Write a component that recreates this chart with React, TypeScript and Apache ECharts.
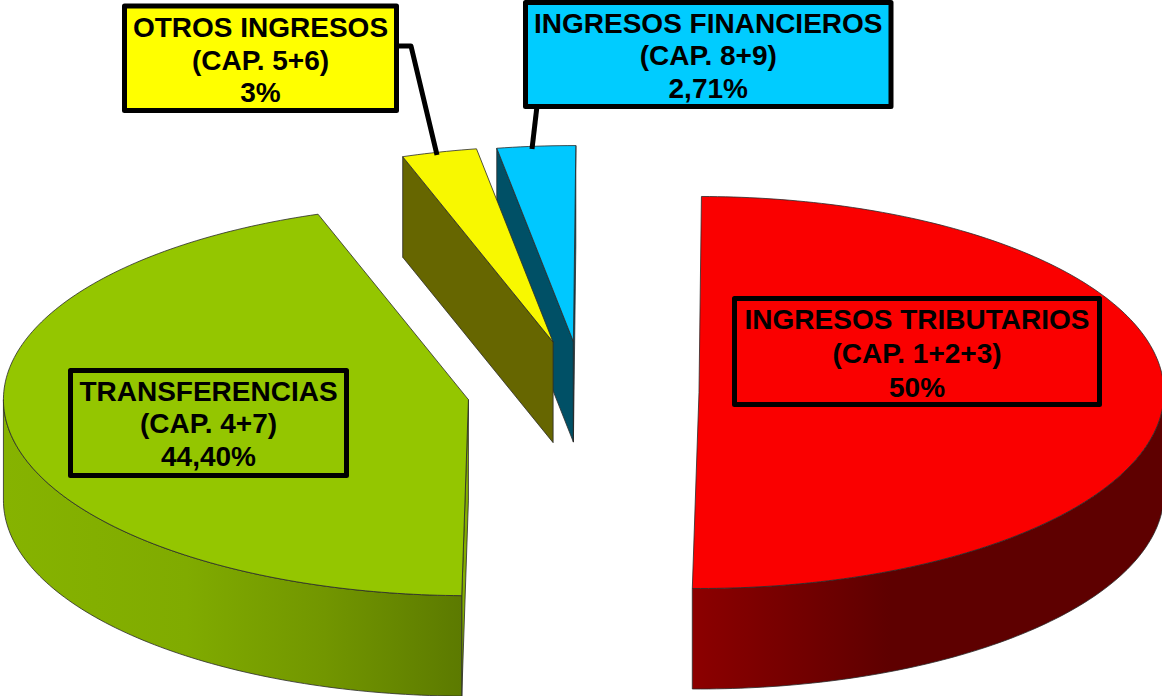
import React, { useEffect, useRef } from "react";
import * as echarts from "echarts";

const VALUES = [50, 44.4, 2.6, 2.71];
const NAMES = ["INGRESOS TRIBUTARIOS", "TRANSFERENCIAS", "OTROS INGRESOS", "INGRESOS FINANCIEROS"];
const CHAPTERS = ["(CAP. 1+2+3)", "(CAP. 4+7)", "(CAP. 5+6)", "(CAP. 8+9)"];
const PERCENTS = ["50%", "44,40%", "3%", "2,71%"];

const TOP_COLORS = ["#fa0000", "#94c600", "#f8f800", "#00c8ff"];
const CUT_COLORS = ["#8c0000", "#84ae00", "#666600", "#005066"];
const WALL_STOPS: [number, string][][] = [
  [[0, "#8c0000"], [0.42, "#5e0000"], [1, "#5e0000"]],
  [[0, "#86b300"], [0.4, "#80ab00"], [0.7, "#729600"], [1, "#5c7a00"]],
  [[0, "#666600"], [1, "#666600"]],
  [[0, "#005066"], [1, "#005066"]],
];
const EXPLODE = [116, 116, 122, 120];

const CX = 583;
const CY = 392;
const RX = 465;
const RY = 196;
const DEPTH = 100.5;
const START_DEG = 0.3;
const OUTLINE = { stroke: "#2a2a2a", lineWidth: 0.8, lineJoin: "round" as const };
const DRAW_ORDER = [1, 0, 3, 2];

const TOTAL = VALUES.reduce((a, b) => a + b, 0);
const rad = (d: number) => (d * Math.PI) / 180;
const bounds = VALUES.map((_, i) => {
  const before = VALUES.slice(0, i).reduce((a, b) => a + b, 0);
  return [START_DEG + (before / TOTAL) * 360, START_DEG + ((before + VALUES[i]) / TOTAL) * 360];
});

function arc(cx: number, cy: number, from: number, to: number) {
  const n = Math.max(2, Math.ceil(Math.abs(to - from)));
  const pts: number[][] = [];
  for (let k = 0; k <= n; k++) {
    const a = rad(from + ((to - from) * k) / n);
    pts.push([cx + RX * Math.sin(a), cy - RY * Math.cos(a)]);
  }
  return pts;
}

function sliceShapes(i: number) {
  const [a0, a1] = bounds[i];
  const mid = rad((a0 + a1) / 2);
  const cx = CX + EXPLODE[i] * Math.sin(mid);
  const cy = CY - (EXPLODE[i] * RY * Math.cos(mid)) / RX;
  const p0 = arc(cx, cy, a0, a0)[0];
  const p1 = arc(cx, cy, a1, a1)[0];
  const down = (p: number[]) => [p[0], p[1] + DEPTH];
  const children: any[] = [];
  // a radial cut face shows only when it turns towards the viewer
  const cuts: number[][] = [];
  if (Math.sin(rad(a0)) < 0) cuts.push(p0);
  if (Math.sin(rad(a1)) > 0) cuts.push(p1);
  cuts.forEach((p) => {
    children.push({
      type: "polygon",
      shape: { points: [[cx, cy], p, down(p), [cx, cy + DEPTH]] },
      style: { fill: CUT_COLORS[i], ...OUTLINE },
    });
  });
  const w0 = Math.max(a0, 90);
  const w1 = Math.min(a1, 270);
  if (w1 > w0) {
    const top = arc(cx, cy, w0, w1);
    children.push({
      type: "polygon",
      shape: { points: [...top, ...top.slice().reverse().map(down)] },
      style: {
        fill: new echarts.graphic.LinearGradient(
          0, 0, 1, 0,
          WALL_STOPS[i].map(([offset, color]) => ({ offset, color }))
        ),
        ...OUTLINE,
      },
    });
  }
  children.push({
    type: "polygon",
    shape: { points: [[cx, cy], ...arc(cx, cy, a0, a1)] },
    style: { fill: TOP_COLORS[i], ...OUTLINE },
  });
  return { type: "group", children };
}

const BOXES = [
  { x: 734.5, y: 298.5, w: 365, h: 106, fill: "transparent", lh: 34, dy: 1.5 },
  { x: 70.5, y: 370.5, w: 276, h: 105, fill: "transparent", lh: 32.5, dy: 0.5 },
  { x: 124.5, y: 6, w: 272, h: 104.5, fill: "#ffff00", lh: 32.5, dy: 2 },
  { x: 525.5, y: 2.5, w: 365.5, h: 104, fill: "#00ccff", lh: 32.5, dy: 1 },
];
const LEADERS: number[][][] = [
  [[397, 46], [411, 46], [437, 155]],
  [[537, 106], [532, 149]],
];

export default function App() {
  const ref = useRef<HTMLDivElement>(null);
  useEffect(() => {
    document.body.style.margin = "0";
    const chart = echarts.init(ref.current!, null, { renderer: "svg" });
    const elements: any[] = [];
    LEADERS.forEach((points) => {
      elements.push({
        type: "polyline",
        z: 10,
        shape: { points },
        style: { fill: "none", stroke: "#000", lineWidth: 5, lineJoin: "round" },
      });
    });
    BOXES.forEach((b, i) => {
      elements.push({
        type: "rect",
        z: 11,
        shape: { x: b.x, y: b.y, width: b.w, height: b.h },
        style: { fill: b.fill, stroke: "#000", lineWidth: 5, lineJoin: "round" },
      });
      elements.push({
        type: "text",
        z: 12,
        x: b.x + b.w / 2,
        y: b.y + b.h / 2 + b.dy,
        style: {
          text: `${NAMES[i]}\n${CHAPTERS[i]}\n${PERCENTS[i]}`,
          font: 'bold 28px "Liberation Sans", Arial, sans-serif',
          lineHeight: b.lh,
          align: "center",
          verticalAlign: "middle",
          fill: "#000",
        },
      });
    });
    chart.setOption({
      animation: false,
      backgroundColor: "#fff",
      series: [
        {
          type: "custom",
          coordinateSystem: "none",
          silent: true,
          data: DRAW_ORDER.map((i) => [i, VALUES[i]]),
          renderItem: (_: any, api: any) => sliceShapes(api.value(0)),
        },
      ],
      graphic: { elements },
    });
    return () => chart.dispose();
  }, []);
  return <div ref={ref} style={{ position: "absolute", left: 0, top: 0, width: 1162, height: 696 }} />;
}
